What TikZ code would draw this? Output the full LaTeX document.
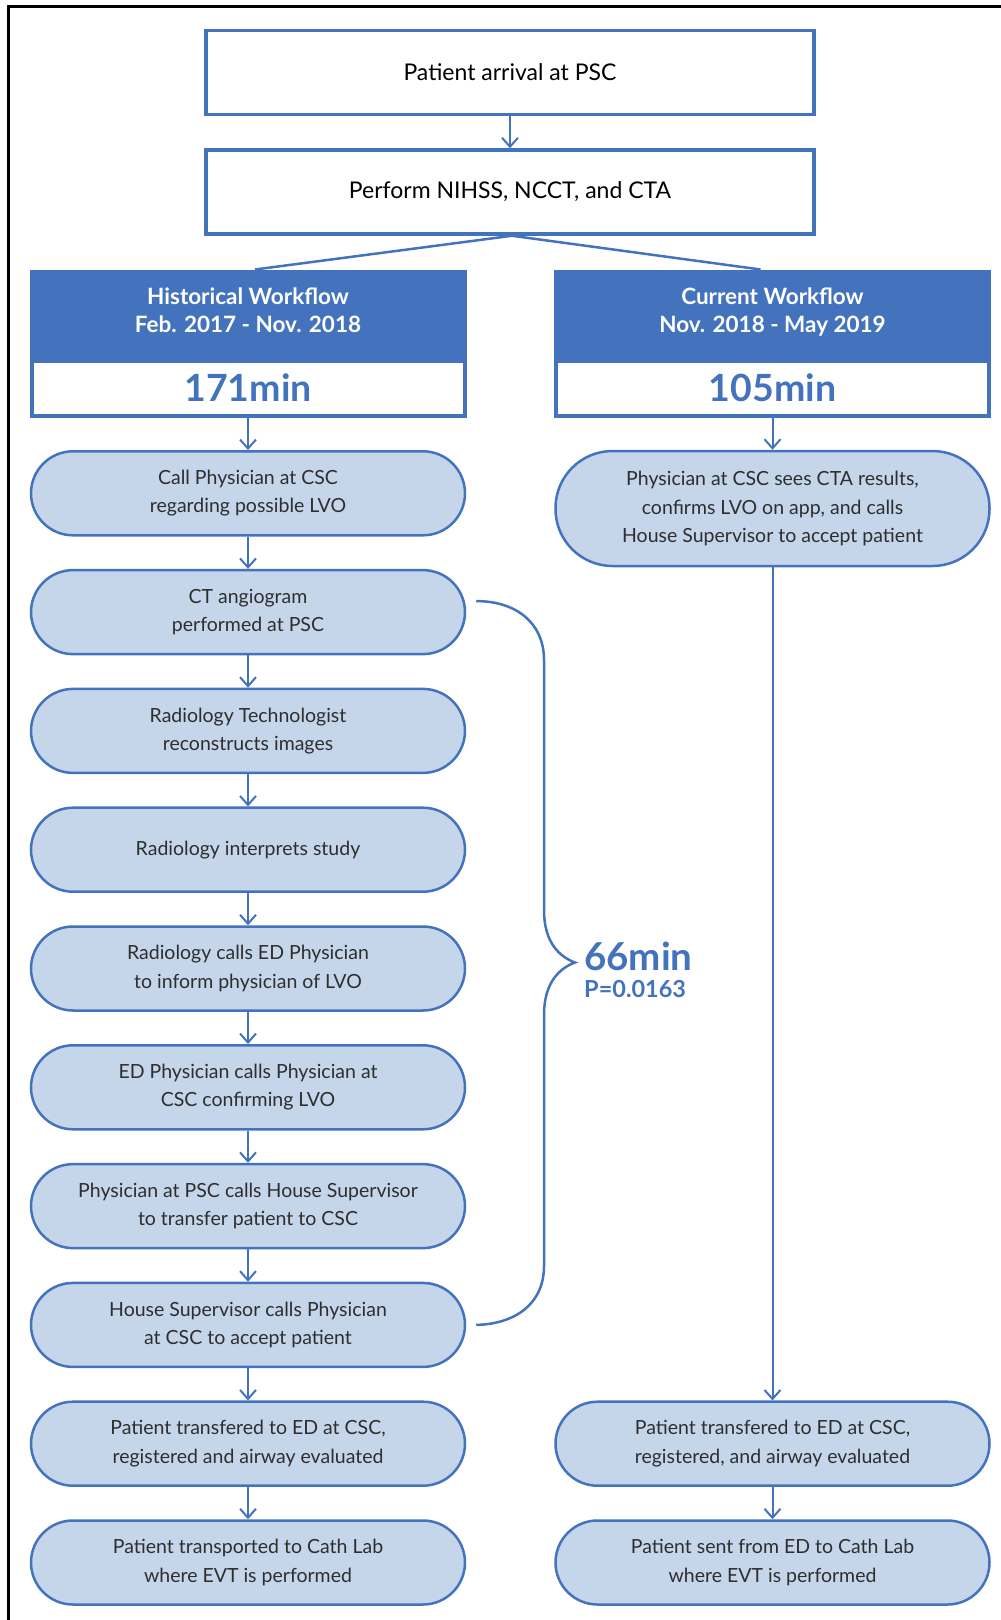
\documentclass[tikz,border=0pt]{standalone}
\usepackage{fontspec}
\setmainfont{Lato}
\usetikzlibrary{arrows.meta,calc}
\definecolor{hblue}{HTML}{4473BE}
\definecolor{pfill}{HTML}{C5D6EB}
\definecolor{ptext}{HTML}{2E2E2E}
\begin{document}
\begin{tikzpicture}[x=1pt,y=-1pt,
  topbox/.style={draw=hblue,line width=3.5pt,fill=white,minimum width=608pt,minimum height=84pt,inner sep=0pt,font=\fontsize{23}{28}\selectfont,text=black},
  headbox/.style={fill=hblue,draw=hblue,line width=1pt,minimum width=436pt,minimum height=147pt,inner sep=0pt},
  headtext/.style={text=white,font=\fontsize{22.5}{28}\selectfont\bfseries,align=center},
  minbox/.style={fill=white,minimum width=429pt,minimum height=51pt,inner sep=0pt,text=hblue,font=\fontsize{37.5}{40}\selectfont\bfseries},
  pill/.style={draw=hblue,line width=2.5pt,fill=pfill,minimum width=434pt,minimum height=84pt,rounded corners=42pt,inner sep=0pt,align=center,text=ptext,font=\fontsize{19.5}{28.5}\selectfont},
  tallpill/.style={pill,minimum height=115pt,rounded corners=57pt},
  arr/.style={draw=hblue,line width=2pt,-{Straight Barb[length=9pt,width=16pt,line width=2pt]}},
  conn/.style={draw=hblue,line width=2.5pt},
]
\useasboundingbox (0,0) rectangle (1001,1620);
% frame
\draw[black,line width=2.5pt] (8.5,1620) -- (8.5,6.5) -- (1001,6.5);

% top boxes
\node[topbox] (arrival) at (510,72.5) {Patient arrival at PSC};
\node[topbox] (perform) at (510,192) {Perform NIHSS, NCCT, and CTA};
\draw[arr] (arrival.south) -- (perform.north);

% headers
\node[headbox] (hist) at (248,343.5) {};
\node[headtext] (histt) at (248,313) {Historical Workflow\strut\\Feb. 2017 - Nov. 2018\strut};
\node[minbox] (histmin) at (248,388) {171min};
\node[headbox] (curr) at (772.5,343.5) {};
\node[headtext] (currt) at (772.5,313) {Current Workflow\strut\\Nov. 2018 - May 2019\strut};
\node[minbox] (currmin) at (772.5,388) {105min};

\coordinate (split) at ($(perform.south)+(2,0)$);
\coordinate (histin) at ($(hist.north)+(7,0)$);
\coordinate (currin) at ($(curr.north)+(-12,0)$);
\draw[conn] (histin) -- (split) -- (currin);

% left column
\node[pill] (l1) at (248,493.3) {Call Physician at CSC\\regarding possible LVO};
\node[pill] (l2) at (248,612.1) {CT angiogram\\performed at PSC};
\node[pill] (l3) at (248,730.9) {Radiology Technologist\\reconstructs images};
\node[pill] (l4) at (248,849.7) {Radiology interprets study};
\node[pill] (l5) at (248,968.5) {Radiology calls ED Physician\\to inform physician of LVO};
\node[pill] (l6) at (248,1087.3) {ED Physician calls Physician at\\CSC confirming LVO};
\node[pill] (l7) at (248,1206.1) {Physician at PSC calls House Supervisor\\to transfer patient to CSC};
\node[pill] (l8) at (248,1324.9) {House Supervisor calls Physician\\at CSC to accept patient};
\node[pill] (l9) at (248,1443.7) {Patient transfered to ED at CSC,\\registered and airway evaluated};
\node[pill] (l10) at (248,1562.5) {Patient transported to Cath Lab\\where EVT is performed};

\draw[arr] (hist.south) -- (l1.north);
\foreach \a/\b in {l1/l2,l2/l3,l3/l4,l4/l5,l5/l6,l6/l7,l7/l8,l8/l9,l9/l10}
  \draw[arr] (\a.south) -- (\b.north);

% right column
\node[tallpill] (r1) at (772.5,508.5) {Physician at CSC sees CTA results,\\confirms LVO on app, and calls\\House Supervisor to accept patient};
\node[pill] (r2) at (772.5,1443.7) {Patient transfered to ED at CSC,\\registered, and airway evaluated};
\node[pill] (r3) at (772.5,1562.5) {Patient sent from ED to Cath Lab\\where EVT is performed};
\draw[arr] (curr.south) -- (r1.north);
\draw[arr] (r1.south) -- (r2.north);
\draw[arr] (r2.south) -- (r3.north);

% brace
\coordinate (bs) at ($(l2.east)+(10,-11)$);
\coordinate (be) at ($(l8.east)+(10,0)$);
\draw[conn] (bs) .. controls (515,601) and (544,622) .. (544,660)
  -- (544,910) .. controls (544,943) and (560,957) .. (575,962.5)
  .. controls (560,968) and (544,982) .. (544,1015)
  -- (544,1266) .. controls (544,1304) and (515,1324) .. (be);
\node[anchor=west,inner sep=0pt,text=hblue,font=\fontsize{38.5}{42}\selectfont\bfseries] (mins) at (584,956) {66min};
\node[anchor=west,inner sep=0pt,text=hblue,font=\fontsize{23.5}{26}\selectfont\bfseries] (pval) at (584,988.5) {P=0.0163};
\end{tikzpicture}
\end{document}
